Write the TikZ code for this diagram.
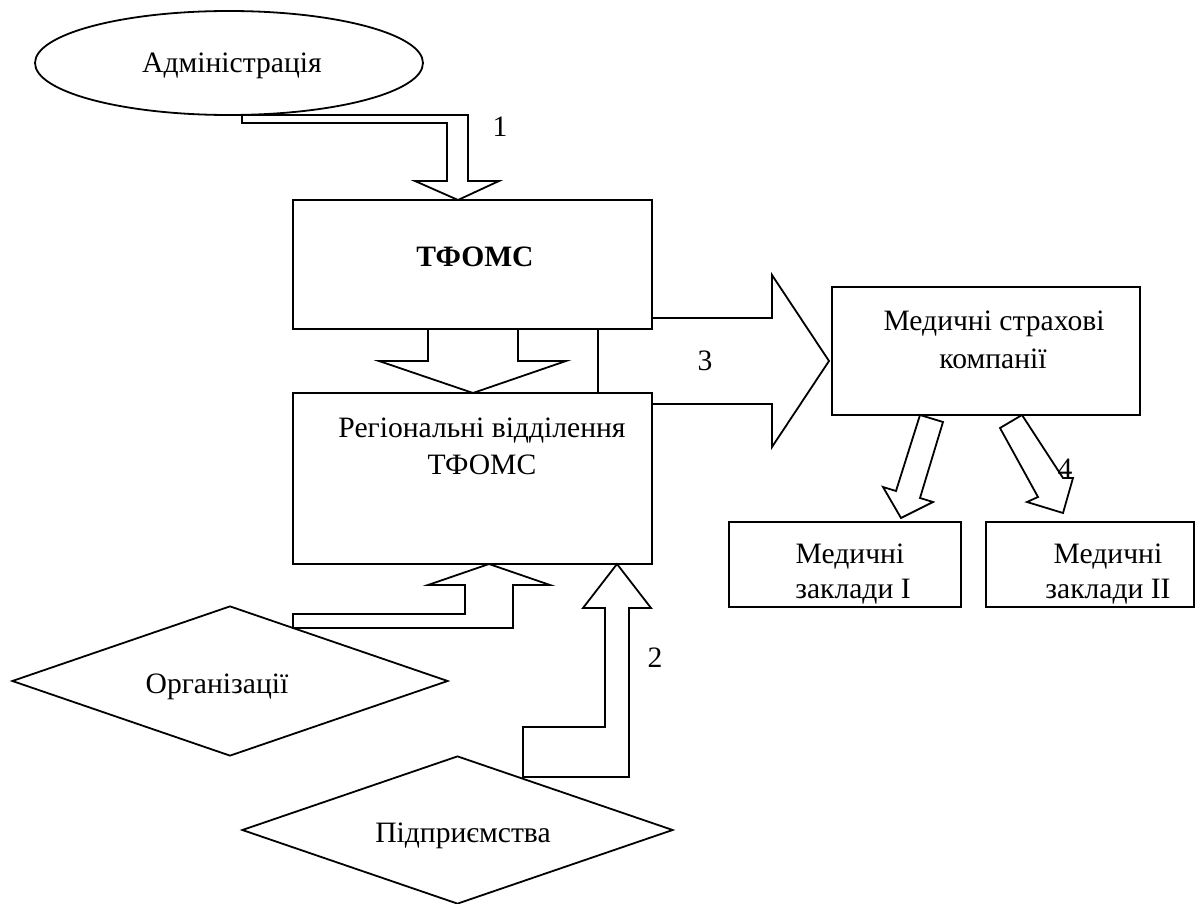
\documentclass[tikz,border=0pt]{standalone}
\usepackage{fontspec}
\setmainfont{Liberation Serif}
\usetikzlibrary{shapes.geometric}
\tikzset{
  box/.style={draw, fill=white, line width=0.9pt, rectangle, inner sep=0pt},
  oval/.style={draw, fill=white, line width=0.9pt, ellipse, inner sep=0pt},
  rhomb/.style={draw, fill=white, line width=0.9pt, diamond, inner sep=0pt},
  blockarrow/.style={draw, fill=white, line width=0.9pt, line join=miter},
  txt/.style={anchor=base, inner sep=0pt, font=\fontsize{14.8}{18}\selectfont},
}
\begin{document}
\begin{tikzpicture}[x=0.5pt, y=-0.5pt]
\useasboundingbox (0,0) rectangle (1201,904);

% wide arrow 3, partly hidden by the two central boxes
\draw[blockarrow] (598,318) -- (772,318) -- (772,275) -- (829,361)
  -- (772,447) -- (772,404) -- (598,404) -- cycle;

% arrow from ТФОМС down to the regional branches
\draw[blockarrow] (428,320) -- (428,361) -- (379,361) -- (473,393)
  -- (566,361) -- (518,361) -- (518,320) -- cycle;

% shapes
\node[oval, minimum width=194pt, minimum height=52pt] (admin) at (229,63) {};
\node[box, minimum width=179.5pt, minimum height=64.5pt] (tfoms) at (472.5,264.5) {};
\node[box, minimum width=179.5pt, minimum height=85.5pt] (reg) at (472.5,478.5) {};
\node[box, minimum width=154pt, minimum height=64pt] (msk) at (986,351) {};
\node[box, minimum width=116pt, minimum height=42.5pt] (mz1) at (845,564.5) {};
\node[box, minimum width=104pt, minimum height=42.5pt] (mz2) at (1090,564.5) {};
\node[rhomb, minimum width=218pt, minimum height=75pt] (org) at (230,681) {};
\node[rhomb, minimum width=215.5pt, minimum height=74pt] (pidpr) at (457.5,830) {};

% bent arrow 1 from the administration
\draw[blockarrow] (242,115) -- (468,115) -- (468,181) -- (499,181)
  -- (458,200) -- (415,181) -- (447,181) -- (447,123) -- (242,123) -- cycle;

% bent arrow from the organisations
\draw[blockarrow] (293,614) -- (465,614) -- (465,585) -- (428,585)
  -- (489,564) -- (550,585) -- (513,585) -- (513,628) -- (293,628) -- cycle;

% bent arrow 2 from the enterprises
\draw[blockarrow] (523,727) -- (605,727) -- (605,608) -- (583,608)
  -- (617,564) -- (651,608) -- (629,608) -- (629,777) -- (523,777) -- cycle;

% two slanted arrows 4 to the medical institutions
\draw[blockarrow] (920,415) -- (943,422) -- (920,498) -- (933,502)
  -- (901,518) -- (883,487) -- (896,491) -- cycle;
\draw[blockarrow] (1000,428) -- (1022,415) -- (1063,478) -- (1073,478)
  -- (1063,513) -- (1027,502) -- (1038,497) -- cycle;

% texts
\node[txt] (tadmin) at (232,73) {Адміністрація};
\node[txt, font=\fontsize{14.8}{18}\selectfont\bfseries] (ttfoms) at (475,267) {ТФОМС};
\node[txt] (treg1) at (482,437) {Регіональні відділення};
\node[txt] (treg2) at (482,474) {ТФОМС};
\node[txt] (tmsk1) at (994,330) {Медичні страхові};
\node[txt] (tmsk2) at (993,368) {компанії};
\node[txt] (tmz1a) at (850,563) {Медичні};
\node[txt] (tmz1b) at (853,598) {заклади I};
\node[txt] (tmz2a) at (1108,563) {Медичні};
\node[txt] (tmz2b) at (1108,598) {заклади II};
\node[txt] (torg) at (217,693) {Організації};
\node[txt] (tpidpr) at (463,842) {Підприємства};

% arrow numbers
\node[txt] (n1) at (500,137) {1};
\node[txt] (n2) at (655,667) {2};
\node[txt] (n3) at (705,370) {3};
\node[txt] (n4) at (1065,478) {4};
\end{tikzpicture}
\end{document}
